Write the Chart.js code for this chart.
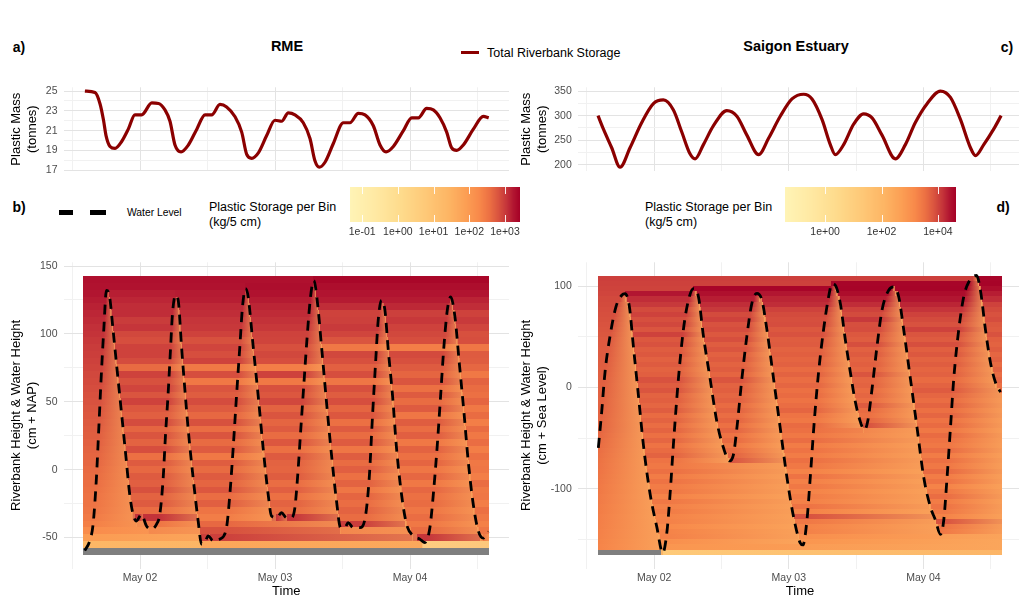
<!DOCTYPE html>
<html>
<head>
<meta charset="utf-8">
<title>Riverbank plastic storage</title>
<script src="https://cdn.jsdelivr.net/npm/chart.js@4.4.1/dist/chart.umd.min.js"></script>
<style>
  html, body { margin: 0; padding: 0; background: #fff; }
  #figure { position: relative; width: 1019px; height: 596px; overflow: hidden;
            font-family: 'Liberation Sans', Arial, sans-serif; color: #000; }
  #figure canvas { position: absolute; }
  .txt { position: absolute; white-space: nowrap; line-height: 1; }
  .c { transform: translate(-50%, -50%); }
  .l { transform: translate(0, -50%); }
  .tag { font-weight: bold; font-size: 14px; }
  .head { font-weight: bold; font-size: 14.5px; }
  .leg { font-size: 12.5px; }
  .bar { position: absolute; background: #000; }
</style>
</head>
<body>
<div id="figure">
  <div class="txt c tag" style="left:19px;top:47px">a)</div>
  <div class="txt c head" style="left:287px;top:46px">RME</div>
  <div class="txt c head" style="left:796px;top:46px">Saigon Estuary</div>
  <div class="txt c tag" style="left:1007px;top:47px">c)</div>

  <div class="bar" style="left:461px;top:51px;width:18px;height:3px;background:#8B0000"></div>
  <div class="txt l leg" style="left:487px;top:53px">Total Riverbank Storage</div>

  <div class="txt c tag" style="left:19px;top:207px">b)</div>
  <div class="txt c tag" style="left:1003px;top:207px">d)</div>
  <div class="bar" style="left:59px;top:210px;width:14px;height:4.5px"></div>
  <div class="bar" style="left:90px;top:210px;width:16px;height:4.5px"></div>
  <div class="txt l" style="left:127px;top:213px;font-size:10.3px">Water Level</div>
  <div class="txt l leg" style="left:209px;top:207px">Plastic Storage per Bin</div>
  <div class="txt l leg" style="left:209px;top:222px">(kg/5 cm)</div>
  <div class="txt l leg" style="left:645px;top:207px">Plastic Storage per Bin</div>
  <div class="txt l leg" style="left:645px;top:222px">(kg/5 cm)</div>

  <canvas id="storageRME" width="515" height="110" style="left:0;top:75px"></canvas>
  <canvas id="storageSGN" width="520" height="110" style="left:510px;top:75px"></canvas>
  <canvas id="barRME" width="190" height="60" style="left:340px;top:180px"></canvas>
  <canvas id="barSGN" width="190" height="60" style="left:775px;top:180px"></canvas>
  <canvas id="heatRME" width="515" height="350" style="left:0;top:250px"></canvas>
  <canvas id="heatSGN" width="520" height="350" style="left:510px;top:250px"></canvas>
</div>

<script>
Chart.defaults.font.family = "'Liberation Sans', Arial, sans-serif";
Chart.defaults.color = '#4D4D4D';
Chart.defaults.animation = false;

// time is in hours since 1 May 00:00
var timeTicks = [12, 24, 36, 48, 60, 72, 84];
var dayTicks = [24, 48, 72];
var dayLabels = ['May 02', 'May 03', 'May 04'];
var heatTimeRange = [14, 86];

// a) total storage RME (tonnes)
var rmeStorageTime = [14.2,16.0,16.9,17.5,17.96,18.67,19.56,20.74,21.92,23.1,
  24.3,26.1,27.3,28.44,29.33,30.22,31.3,32.6,34.1,35.56,
  36.74,38.22,39.4,40.9,42.08,42.97,43.86,45.04,46.52,48.0,
  49.18,50.37,51.55,53.03,54.22,55.1,55.88,56.89,58.37,60.15,
  61.33,62.81,64.0,65.48,66.67,67.74,69.04,70.82,72.3,73.48,
  74.97,76.15,77.33,78.52,79.41,80.3,81.48,83.26,85.04,86.0];
var rmeStorageMass = [25,24.85,23.7,22.1,20.5,19.4,19.2,19.9,21.15,22.6,
  22.6,23.8,23.75,23.1,21.95,19.55,18.85,19.55,21.15,22.6,
  22.6,23.65,23.4,22.4,20.85,18.6,18.2,18.75,20.5,22.05,
  21.95,22.8,22.6,21.8,20.2,17.95,17.3,17.8,19.7,21.8,
  21.8,22.75,22.6,21.5,19.55,18.85,19.4,21,22.3,22.3,
  23.25,23.1,22.3,20.85,19.25,19.0,19.55,21.15,22.45,22.3];

// c) total storage Saigon (tonnes)
var sgnStorageTime = [14,14.95,16.44,17.93,19.71,21.8,23.87,25.65,27.44,28.93,
  30.42,31.31,32.79,34.58,36.96,38.75,40.53,42.62,44.4,46.48,
  48.57,50.65,52.14,53.92,55.4,56.29,57.78,59.56,61.35,62.84,
  64.62,66.99,68.78,70.56,72.65,75.03,76.81,78.59,80.38,81.27,
  82.75,84.54,85.85];
var sgnStorageMass = [300,273,234.6,195,234.6,286,324.4,332,311.5,266.6,
  221.7,212.1,241,279.5,310.3,298.7,260.3,220.5,254,298.7,
  334,343.6,334,292.3,241,220.5,241,282.7,303.8,295.5,
  260.3,212.1,241,286,324.4,350,337.2,292.3,234.6,218.6,
  241,273,300];

// b) water level RME (cm + NAP)
var rmeWaterTime = [14.18,15.07,15.66,16.25,16.67,17.14,17.56,18.03,18.5,19.21,
  19.92,20.7,21.47,22.18,22.77,23.36,24.26,25.15,26.04,26.93,
  27.52,28.12,28.53,29.01,29.42,29.78,30.31,30.79,31.38,31.97,
  32.56,33.45,34.34,34.94,35.53,36.12,37.01,38.2,39.38,39.97,
  40.56,41.16,41.75,42.22,42.76,43.23,44.12,45.01,45.9,46.79,
  47.38,48.27,49.16,50.05,50.93,51.53,52.0,52.59,53.19,53.72,
  54.31,54.9,55.5,56.27,57.16,58.05,58.94,59.65,60.42,61.01,
  61.9,63.09,63.98,64.75,65.34,65.88,66.35,66.94,67.54,68.13,
  68.9,69.61,70.5,71.39,72.58,73.76,74.65,75.54,76.14,76.85,
  77.44,78.03,78.63,79.22,79.99,80.76,81.59,82.36,83.25,84.14,
  85.03,85.92];
var rmeWaterLevel = [-59.6,-52.3,-40.2,-6.2,30.1,71.4,103,132,129.6,103,
  73.8,42.3,10.7,-18.4,-32.9,-37.8,-32.9,-41.4,-43.8,-40.2,
  -32.9,-6.2,25.3,56.8,88.4,115.1,128.4,124.8,90.8,59.3,
  30.1,-6.2,-37.8,-54.8,-53.6,-48.7,-52.3,-51.1,-42.6,-18.4,
  15.6,54.4,90.8,119.9,133.3,127.2,90.8,54.4,15.6,-18.4,
  -34.1,-35.3,-31.7,-35.3,-35.3,-28.1,-6.2,30.1,66.6,98.1,
  127.2,139.3,124.8,90.8,49.6,10.7,-23.2,-42.6,-42.6,-39,
  -42.6,-42.6,-36.6,-6.2,39.9,78.7,110.2,124.8,117.5,88.4,
  54.4,15.6,-18.4,-40.2,-48.7,-51.1,-53.6,-42.6,-18.4,18.1,
  54.4,90.8,117.5,127.2,112.6,78.7,42.3,5.9,-25.6,-45,
  -50.4,-45.5];

// d) water level Saigon (cm + sea level)
var sgnWaterTime = [14.06,14.66,15.25,16.14,17.21,18.23,18.82,19.59,20.3,21.2,
  22.08,23.28,24.47,25.54,26.26,26.85,27.44,28.33,29.22,30.12,
  31.01,31.9,32.79,33.98,35.18,36.36,37.43,38.15,38.75,39.64,
  40.53,41.42,42.32,43.21,44.1,45.29,46.48,47.67,48.85,50.04,
  50.52,51.24,51.83,52.54,53.31,54.2,55.1,55.7,56.29,57.18,
  58.07,58.97,59.86,60.75,61.47,62.06,62.84,63.73,64.62,65.81,
  66.7,67.59,68.48,69.68,70.87,72.05,73.24,74.13,75.03,75.62,
  76.21,76.81,77.4,78.29,79.18,80.08,81.45,82.16,83.05,83.94,
  84.83,85.72];
var sgnWaterLevel = [-59.5,-23.8,15.1,50.8,80,91.2,92.8,80,41,-7.6,
  -56.2,-104.9,-137.4,-163.3,-143.8,-104.9,-56.2,8.6,57.2,86.4,
  97.8,89.7,50.8,8.6,-33.6,-59.5,-72.5,-66,-40.1,8.6,
  50.8,83.2,93,86.4,57.2,8.6,-40.1,-88.7,-127.6,-153.5,
  -155.5,-130.9,-88.7,-33.6,15.1,57.2,89.7,102.6,101,83.2,
  47.5,15.1,-14.1,-33.6,-42,-33.6,-1.2,41,76.7,96.1,
  99.4,89.7,57.2,8.6,-40.1,-88.7,-117.9,-130.9,-145,-130.9,
  -88.7,-40.1,8.6,57.2,89.7,104.3,110.7,96,57.2,24.8,
  5.3,-4.4];

// heatmap bins (5 cm), centres from top to bottom
var rmeBins = [140,135,130,125,120,115,110,105,100,95,90,85,80,75,70,65,60,55,50,45,
  40,35,30,25,20,15,10,5,0,-5,-10,-15,-20,-25,-30,-35,-40,-45,-50,-55,-60];
var sgnBins = [107.5,102.5,97.5,92.5,87.5,82.5,77.5,72.5,67.5,62.5,57.5,52.5,47.5,42.5,37.5,
  32.5,27.5,22.5,17.5,12.5,7.5,2.5,-2.5,-7.5,-12.5,-17.5,-22.5,-27.5,-32.5,-37.5,
  -42.5,-47.5,-52.5,-57.5,-62.5,-67.5,-72.5,-77.5,-82.5,-87.5,-92.5,-97.5,-102.5,-107.5,-112.5,
  -117.5,-122.5,-127.5,-132.5,-137.5,-142.5,-147.5,-152.5,-157.5,-162.5];

// storage per bin, log10(kg / 5 cm): initial state, then the state left after each ebb
// (null in a later ebb: bin untouched by that tide; null at start: no data)
var rmeSeg0 = [3.28,3.26,3.24,3.2,3.16, 3.13,3.1,3.07,3.05,3.02, 2.99,2.97,2.95,2.93,2.9,
  2.88,2.86,2.84,2.82,2.8, 2.78,2.76,2.74,2.72,2.7, 2.68,2.66,2.64,2.62,2.6,
  2.58,2.56,2.54,2.52,2.49, 2.45,2.38,2.22,1.95,1.35, null];
var rmeSeg1 = [null,null,3.18,3.13,3.09, 3.09,2.99,3.04,2.90,2.85, 2.94,2.94,2.87,2.61,2.94,
  2.83,2.92,2.80,2.94,2.78, 2.71,2.87,2.66,2.80,2.68, 2.85,2.56,2.75,2.63,2.75,
  2.71,2.83,2.68,2.75,2.59, 3.06,2.52,2.42,null,null, null];
var rmeSeg2 = [null,null,3.2,3.18,3.11, 3.09,3.04,3.02,2.94,2.83, 2.92,2.85,2.94,2.47,2.85,
  2.47,2.80,2.73,2.87,2.75, 2.63,2.83,2.59,2.80,2.61, 2.75,2.47,2.73,2.61,2.75,
  2.66,2.78,2.59,2.71,2.52, 2.42,2.63,2.83,2.96,1.75, null];
var rmeSeg3 = [null,3.3,3.26,3.2,3.14, 3.1,3.06,3.02,2.94,2.93, 2.84,2.9,2.85,2.4,2.94,
  2.47,2.84,2.78,2.9,2.68, 2.8,2.66,2.75,2.6,2.78, 2.56,2.75,2.68,2.66,2.73,
  2.59,2.71,2.56,2.68,2.6, 3.05,2.4,null,null,null, null];
var rmeSeg4 = [3.36,3.3,3.25,3.2,3.09, 2.94,2.96,3.0,2.92,2.8, 2.47,2.9,2.84,2.7,2.85,
  2.5,2.84,2.73,2.85,2.66, 2.78,2.56,2.75,2.6,2.75, 2.5,2.73,2.6,2.71,2.56,
  2.68,2.5,2.66,2.59,2.68, 2.6,2.98,2.5,null,null, null];
var rmeSeg5 = [null,null,null,3.2,3.12, 2.96,3.02,2.94,2.9,2.85, 2.4,2.88,2.84,2.75,2.66,
  2.8,2.56,2.75,2.6,2.75, 2.5,2.73,2.59,2.71,2.47, 2.68,2.56,2.66,2.5,2.64,
  2.47,2.64,2.56,2.6,2.5, 2.59,2.47,2.6,3.04,-0.3, null];
var rmeSeg6 = [null,null,null,3.15,3.09, 2.94,3.0,2.92,2.84,2.85, 2.5,2.75,2.73,2.64,2.47,
  2.68,2.6,2.56,2.66,2.47, 2.6,2.4,2.6,2.47,2.59, 2.4,2.56,2.47,2.5,2.4,
  2.59,2.47,2.5,2.4,2.56, 2.47,2.38,2.5,2.47,null, null];

var sgnSeg0 = [4.06,4.04,4.02,4.0,3.97, 3.95,3.93,3.91,3.89,3.87, 3.85,3.83,3.81,3.8,3.79,
  3.78,3.77,3.76,3.75,3.74, 3.73,3.72,3.72,3.71,3.7, 3.7,3.69,3.68,3.67,3.67,
  3.66,3.64,3.62,3.6,3.58, 3.56,3.54,3.52,3.5,3.48, 3.46,3.44,3.43,3.41,3.4,
  3.38,3.37,3.35,3.34,3.33, 3.31,3.3,3.28,3.26,null];
var sgnSeg1 = [null,null,null,4.4,4.22, 4.12,3.95,4.03,3.91,3.98, 3.85,4.03,3.82,3.88,3.76,
  3.82,3.72,3.78,3.7,3.74, 3.88,3.76,3.85,3.7,3.74, 3.66,3.76,3.6,3.7,3.58,
  3.68,3.55,3.66,3.5,3.6, 3.7,3.5,3.43,3.55,3.38, 3.5,3.38,3.43,3.28,3.43,
  3.3,3.38,3.28,3.3,3.18, 3.28,3.3,3.06,2.9,1.2];
var sgnSeg2 = [null,null,4.58,4.46,4.34, 4.22,4.12,3.95,4.03,3.88, 3.93,3.82,3.91,3.76,3.85,
  3.72,3.78,3.7,3.76,3.67, 3.85,3.7,3.74,3.66,3.72, 3.6,3.7,3.58,3.67,3.55,
  3.66,3.5,3.6,3.43,3.58, 3.7,3.88,null,null,null, null,null,null,null,null,
  null,null,null,null,null, null,null,null,null,null];
var sgnSeg3 = [null,null,null,4.4,4.28, 4.22,4.03,3.95,3.91,3.93, 3.82,3.88,3.76,3.78,3.7,
  3.74,3.67,3.72,3.6,3.7, 3.58,3.66,3.55,3.6,3.5, 3.58,3.67,3.5,3.43,3.6,
  3.55,3.43,3.58,3.38,3.5, 3.38,3.55,3.43,3.28,3.5, 3.3,3.43,3.28,3.38,3.3,
  3.5,3.28,3.88,3.43,3.28, 3.3,3.06,2.9,null,null];
var sgnSeg4 = [null,4.58,4.6,4.5,4.34, 4.22,4.03,3.95,4.12,3.91, 3.93,3.82,3.76,3.91,3.72,
  3.78,3.7,3.74,3.67,3.85, 3.66,3.7,3.6,3.66,3.58, 3.78,3.6,3.55,3.67,3.9,
  3.5,null,null,null,null, null,null,null,null,null, null,null,null,null,null,
  null,null,null,null,null, null,null,null,null,null];
var sgnSeg5 = [null,null,4.6,4.5,4.4, 4.28,4.16,4.03,3.95,3.88, 4.03,3.85,3.78,3.91,3.74,
  3.82,3.7,3.76,3.67,3.72, 3.6,3.7,3.78,3.66,3.58, 3.68,3.55,3.66,3.5,3.6,
  3.43,3.6,3.5,3.43,3.58, 3.38,3.55,3.43,3.6,3.38, 3.5,3.28,3.43,3.58,3.38,
  3.5,3.43,3.28,3.88,3.5, 3.43,null,null,null,null];
var sgnSeg6 = [4.58,4.6,4.5,4.34,4.22, 4.03,3.95,3.88,3.93,3.82, 3.78,3.88,3.74,3.7,3.76,
  3.66,3.72,3.6,3.7,3.58, 3.66,3.55,3.6,null,null, null,null,null,null,null,
  null,null,null,null,null, null,null,null,null,null, null,null,null,null,null,
  null,null,null,null,null, null,null,null,null,null];

// colour bar limits (log10) and ticks
var rmeColorLimits = [-1.34, 3.42];
var sgnColorLimits = [-1.42, 4.64];
var rmeBarTicks = [0.1, 1, 10, 100, 1000];
var sgnBarTicks = [1, 100, 10000];

var paletteStops = [[0, '#FFF4B6'], [0.15, '#FFE9A3'], [0.3, '#FEDB8C'], [0.45, '#FEC877'],
  [0.58, '#FDB564'], [0.68, '#FC9F54'], [0.76, '#F8894A'], [0.82, '#EC7043'],
  [0.87, '#DA553F'], [0.92, '#C5353A'], [0.96, '#B21631'], [1, '#A50026']];

function hexRgb(h) {
  return [parseInt(h.substr(1, 2), 16), parseInt(h.substr(3, 2), 16), parseInt(h.substr(5, 2), 16)];
}

function paletteColor(f) {
  f = Math.max(0, Math.min(1, f));
  for (var i = 1; i < paletteStops.length; i++) {
    if (f <= paletteStops[i][0]) {
      var a = paletteStops[i - 1], b = paletteStops[i];
      var k = (f - a[0]) / (b[0] - a[0]);
      var ca = hexRgb(a[1]), cb = hexRgb(b[1]);
      return 'rgb(' + Math.round(ca[0] + (cb[0] - ca[0]) * k) + ',' +
        Math.round(ca[1] + (cb[1] - ca[1]) * k) + ',' + Math.round(ca[2] + (cb[2] - ca[2]) * k) + ')';
    }
  }
  return paletteStops[paletteStops.length - 1][1];
}

function toPoints(xs, ys) {
  return xs.map(function (x, i) { return {x: x, y: ys[i]}; });
}

function gridColor(majors) {
  return function (ctx) {
    return ctx.tick && majors.indexOf(ctx.tick.value) >= 0 ? '#E3E3E3' : '#F1F1F1';
  };
}

function timeAxis(showLabels, height) {
  return {
    type: 'linear', min: 10.4, max: 89.6,
    afterBuildTicks: function (s) { s.ticks = timeTicks.map(function (v) { return {value: v}; }); },
    afterFit: function (s) { s.height = height; },
    border: {display: false},
    grid: {color: gridColor(dayTicks), drawTicks: false},
    ticks: {display: showLabels, autoSkip: false, maxRotation: 0, padding: 3.5,
      font: {size: 10.5}, color: '#4D4D4D',
      callback: function (v) { var i = dayTicks.indexOf(v); return i >= 0 ? dayLabels[i] : ''; }},
    title: {display: showLabels, text: 'Time', color: '#000', font: {size: 13}, padding: {top: 0, bottom: 1}}
  };
}

function valueAxis(min, max, ticks, majors, width, titleLines) {
  return {
    type: 'linear', min: min, max: max,
    afterBuildTicks: function (s) { s.ticks = ticks.map(function (v) { return {value: v}; }); },
    afterFit: function (s) { s.width = width; },
    border: {display: false},
    grid: {color: gridColor(majors), drawTicks: false},
    ticks: {autoSkip: false, padding: 6, font: {size: 10.5}, color: '#4D4D4D',
      callback: function (v) { return majors.indexOf(v) >= 0 ? String(v) : ''; }},
    title: {display: true, text: titleLines, color: '#000', font: {size: 13, lineHeight: 1.2},
      padding: {top: 9, bottom: 0}}
  };
}

function storageChart(id, time, mass, yMin, yMax, yTicks, yMajors, yWidth, padRight) {
  return new Chart(document.getElementById(id), {
    type: 'line',
    data: {datasets: [{data: toPoints(time, mass), borderColor: '#8B0000', borderWidth: 3.2,
      pointRadius: 0, cubicInterpolationMode: 'monotone', fill: false}]},
    options: {
      responsive: false, animation: false,
      layout: {padding: {top: 7.5, right: padRight, left: 0, bottom: 0}},
      plugins: {legend: {display: false}, tooltip: {enabled: false}},
      scales: {
        x: timeAxis(false, 14),
        y: valueAxis(yMin, yMax, yTicks, yMajors, yWidth, ['Plastic Mass', '(tonnes)'])
      }
    }
  });
}

// ---- heatmap helpers ----
function findPeaks(level) {
  var p = [];
  for (var i = 1; i < level.length - 1; i++) {
    if (level[i] > 0 && level[i] >= level[i - 1] && level[i] > level[i + 1]) p.push(i);
  }
  return p;
}

// pieces of constant storage for one bin: the value changes when the ebb uncovers the bin
function binPieces(cfg, peaks, h, r) {
  var top = h + cfg.binSize / 2, bottom = h - cfg.binSize / 2;
  var T = cfg.waterTime, W = cfg.waterLevel, changes = [];
  peaks.forEach(function (p, k) {
    if (W[p] <= bottom) return;
    var stop = k + 1 < peaks.length ? peaks[k + 1] : T.length - 1;
    for (var i = p; i < stop; i++) {
      if (W[i + 1] < top) {
        var t = W[i] < top ? T[i] : T[i] + (top - W[i]) / (W[i + 1] - W[i]) * (T[i + 1] - T[i]);
        changes.push({t: t, k: k + 1});
        break;
      }
    }
  });
  var pieces = [], cur = cfg.segments[0][r], t0 = cfg.timeRange[0];
  changes.forEach(function (c) {
    var v = cfg.segments[c.k][r];
    if (v === null) return;
    pieces.push({t0: t0, t1: c.t, v: cur});
    cur = v; t0 = c.t;
  });
  pieces.push({t0: t0, t1: cfg.timeRange[1], v: cur});
  return pieces;
}

function submergedSpans(cfg, h) {
  var T = cfg.waterTime, W = cfg.waterLevel, spans = [];
  var start = W[0] > h ? cfg.timeRange[0] : null;
  for (var i = 0; i < T.length - 1; i++) {
    var a = W[i] - h, b = W[i + 1] - h;
    if (a <= 0 && b > 0) {
      start = T[i] + (-a) / (b - a) * (T[i + 1] - T[i]);
    } else if (a > 0 && b <= 0) {
      spans.push({t0: start, t1: T[i] + a / (a - b) * (T[i + 1] - T[i])});
      start = null;
    }
  }
  if (start !== null) spans.push({t0: start, t1: cfg.timeRange[1]});
  return spans;
}

function heatmapPlugin(cfg) {
  return {
    id: 'heat_' + cfg.name,
    beforeDatasetsDraw: function (chart) {
      var xs = chart.scales.x, ys = chart.scales.y, ctx = chart.ctx, a = chart.chartArea;
      var peaks = findPeaks(cfg.waterLevel);
      var span = cfg.limits[1] - cfg.limits[0];
      ctx.save();
      ctx.beginPath();
      ctx.rect(a.left, a.top, a.right - a.left, a.bottom - a.top);
      ctx.clip();
      cfg.bins.forEach(function (h, r) {
        var yT = Math.round(ys.getPixelForValue(h + cfg.binSize / 2));
        var yB = Math.round(ys.getPixelForValue(h - cfg.binSize / 2));
        var pieces = binPieces(cfg, peaks, h, r);
        pieces.forEach(function (p) {
          var x0 = Math.floor(xs.getPixelForValue(p.t0)), x1 = Math.ceil(xs.getPixelForValue(p.t1));
          ctx.fillStyle = p.v === null ? cfg.naColor : paletteColor((p.v - cfg.limits[0]) / span);
          ctx.fillRect(x0, yT, x1 - x0, yB - yT);
        });
        // washed-out look while the bin is under water
        submergedSpans(cfg, h).forEach(function (s) {
          var sx0 = xs.getPixelForValue(s.t0), sx1 = xs.getPixelForValue(s.t1);
          if (sx1 - sx0 < 1) return;
          var g = ctx.createLinearGradient(sx0, 0, sx1, 0);
          g.addColorStop(0, 'rgba(251,172,96,0)');
          g.addColorStop(1, 'rgba(251,172,96,' + cfg.wash + ')');
          pieces.forEach(function (p) {
            if (p.v === null) return;
            var t0 = Math.max(p.t0, s.t0), t1 = Math.min(p.t1, s.t1);
            if (t1 <= t0) return;
            var x0 = Math.floor(xs.getPixelForValue(t0)), x1 = Math.ceil(xs.getPixelForValue(t1));
            ctx.fillStyle = g;
            ctx.fillRect(x0, yT, x1 - x0, yB - yT);
          });
        });
      });
      ctx.restore();
    }
  };
}

function heatChart(id, cfg, yMin, yMax, yTicks, yMajors, yWidth, padRight, yTitle) {
  return new Chart(document.getElementById(id), {
    type: 'line',
    data: {datasets: [{data: toPoints(cfg.waterTime, cfg.waterLevel), borderColor: '#000',
      borderWidth: 2.8, borderDash: [10, 7], borderCapStyle: 'butt', pointRadius: 0,
      cubicInterpolationMode: 'monotone', fill: false}]},
    options: {
      responsive: false, animation: false,
      layout: {padding: {top: 8, right: padRight, left: 0, bottom: 0}},
      plugins: {legend: {display: false}, tooltip: {enabled: false}},
      scales: {
        x: timeAxis(true, 31.5),
        y: valueAxis(yMin, yMax, yTicks, yMajors, yWidth, yTitle)
      }
    },
    plugins: [heatmapPlugin(cfg)]
  });
}

function sciLabel(v) {
  var e = Math.round(Math.log10(v));
  var s = String(Math.abs(e));
  if (s.length < 2) s = '0' + s;
  return '1e' + (e < 0 ? '-' : '+') + s;
}

function colorbarChart(id, limits, tickValues, padRight) {
  return new Chart(document.getElementById(id), {
    type: 'line',
    data: {datasets: [{data: []}]},
    options: {
      responsive: false, animation: false,
      layout: {padding: {left: 10, right: padRight, top: 7, bottom: 0}},
      plugins: {legend: {display: false}, tooltip: {enabled: false}},
      scales: {
        x: {
          type: 'logarithmic', min: Math.pow(10, limits[0]), max: Math.pow(10, limits[1]),
          afterBuildTicks: function (s) { s.ticks = tickValues.map(function (v) { return {value: v}; }); },
          afterFit: function (s) { s.height = 18; },
          border: {display: false},
          grid: {display: false, drawTicks: false},
          ticks: {autoSkip: false, maxRotation: 0, padding: 3.5, color: '#333', font: {size: 10.5},
            callback: function (v) { return sciLabel(v); }}
        },
        y: {display: false, min: 0, max: 1}
      }
    },
    plugins: [{
      id: 'bar_' + id,
      beforeDatasetsDraw: function (chart) {
        var xs = chart.scales.x, a = chart.chartArea, ctx = chart.ctx;
        for (var px = Math.floor(a.left); px < Math.ceil(a.right); px++) {
          var lv = Math.log10(xs.getValueForPixel(px + 0.5));
          ctx.fillStyle = paletteColor((lv - limits[0]) / (limits[1] - limits[0]));
          ctx.fillRect(px, a.top, 1, a.bottom - a.top);
        }
        ctx.save();
        ctx.strokeStyle = 'rgba(255,255,255,0.9)';
        ctx.lineWidth = 1;
        tickValues.forEach(function (v) {
          var x = Math.round(xs.getPixelForValue(v)) + 0.5;
          ctx.beginPath();
          ctx.moveTo(x, a.top); ctx.lineTo(x, a.top + 7);
          ctx.moveTo(x, a.bottom - 7); ctx.lineTo(x, a.bottom);
          ctx.stroke();
        });
        ctx.restore();
      }
    }]
  });
}

var rmeHeat = {name: 'rme', bins: rmeBins, binSize: 5,
  segments: [rmeSeg0, rmeSeg1, rmeSeg2, rmeSeg3, rmeSeg4, rmeSeg5, rmeSeg6],
  waterTime: rmeWaterTime, waterLevel: rmeWaterLevel, timeRange: heatTimeRange,
  limits: rmeColorLimits, naColor: '#7F7F7F', wash: 0.5};
var sgnHeat = {name: 'sgn', bins: sgnBins, binSize: 5,
  segments: [sgnSeg0, sgnSeg1, sgnSeg2, sgnSeg3, sgnSeg4, sgnSeg5, sgnSeg6],
  waterTime: sgnWaterTime, waterLevel: sgnWaterLevel, timeRange: heatTimeRange,
  limits: sgnColorLimits, naColor: '#7F7F7F', wash: 0.7};

storageChart('storageRME', rmeStorageTime, rmeStorageMass, 16.915, 25.385,
  [17, 18, 19, 20, 21, 22, 23, 24, 25], [17, 19, 21, 23, 25], 63.5, 6);
storageChart('storageSGN', sgnStorageTime, sgnStorageMass, 187.25, 357.75,
  [200, 225, 250, 275, 300, 325, 350], [200, 250, 300, 350], 67.8, 7.8);

colorbarChart('barRME', rmeColorLimits, rmeBarTicks, 10);
colorbarChart('barSGN', sgnColorLimits, sgnBarTicks, 9);

heatChart('heatRME', rmeHeat, -72.75, 152.75, [-50, -25, 0, 25, 50, 75, 100, 125, 150],
  [-50, 0, 50, 100, 150], 63.5, 6, ['Riverbank Height & Water Height', '(cm + NAP)']);
heatChart('heatSGN', sgnHeat, -178.75, 123.75, [-150, -100, -50, 0, 50, 100],
  [-100, 0, 100], 67.8, 7.8, ['Riverbank Height & Water Height', '(cm + Sea Level)']);
</script>
</body>
</html>
